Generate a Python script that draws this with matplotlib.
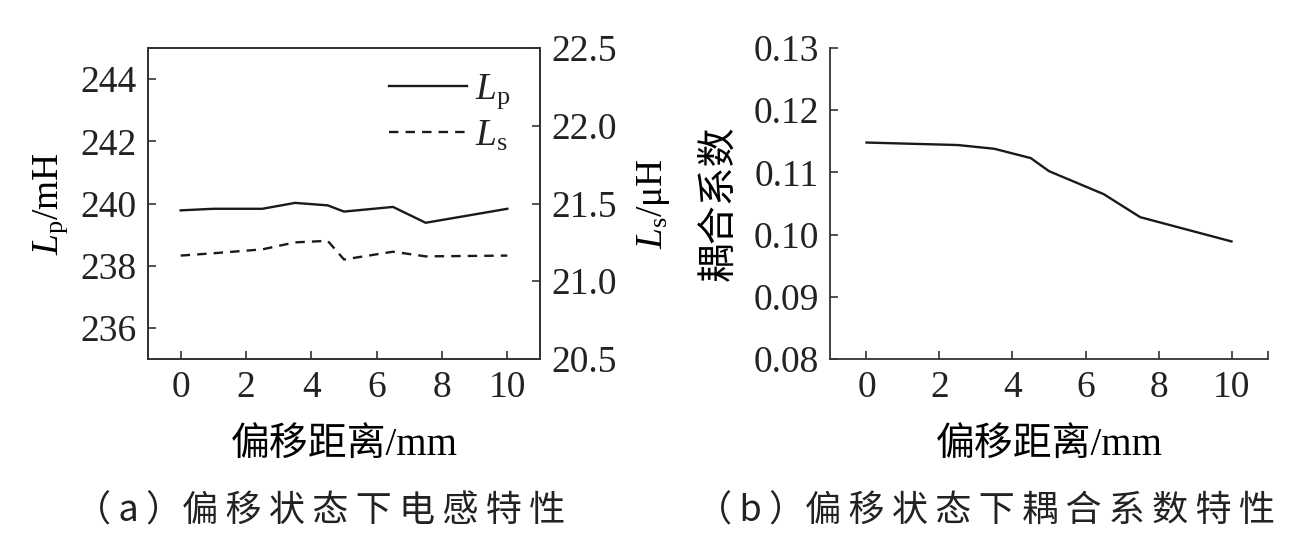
import matplotlib
matplotlib.use("Agg")
import matplotlib.pyplot as plt
import numpy as np
from matplotlib.ticker import FormatStrFormatter, FixedLocator

# font: serif numbers, CJK fallback
plt.rcParams['font.family'] = ['Liberation Serif', 'Noto Sans CJK SC']
plt.rcParams['mathtext.fontset'] = 'custom'
plt.rcParams['mathtext.rm'] = 'Liberation Serif'
plt.rcParams['mathtext.it'] = 'Liberation Serif:italic'
plt.rcParams['font.size'] = 27
plt.rcParams['text.color'] = '#222222'
plt.rcParams['axes.edgecolor'] = '#333333'
plt.rcParams['xtick.color'] = '#333333'
plt.rcParams['ytick.color'] = '#333333'
plt.rcParams['xtick.labelcolor'] = '#222222'
plt.rcParams['ytick.labelcolor'] = '#222222'

# data
offset = [0, 1, 2.5, 3.5, 4.5, 5, 6.5, 7.5, 10]
Lp = [239.78, 239.83, 239.83, 240.02, 239.94, 239.74, 239.89, 239.38, 239.83]
Ls = [21.165, 21.18, 21.205, 21.25, 21.26, 21.14, 21.19, 21.16, 21.165]

k_offset = [0, 2.5, 3.5, 4.5, 5, 6.5, 7.5, 10]
k = [0.1148, 0.1144, 0.1138, 0.1123, 0.1102, 0.1065, 0.1028, 0.0989]

xlabel = '偏移距离/mm'
cap_a = ['（\u2009a\u2009）', '偏', '移', '状', '态', '下', '电', '感', '特', '性']
cap_b = ['（\u2009b\u2009）', '偏', '移', '状', '态', '下', '耦', '合', '系', '数', '特', '性']

W, H = 1312, 552
fig = plt.figure(figsize=(W / 100, H / 100), dpi=100)

ax1 = fig.add_axes([148 / W, (H - 359) / H, 392 / W, 311 / H])
ax2 = ax1.twinx()
ax3 = fig.add_axes([830 / W, (H - 359) / H, 438 / W, 311 / H])

lc = '#1a1a1a'
l1, = ax1.plot(offset, Lp, color=lc, lw=1.7, label=r'$L_\mathrm{p}$')
l2, = ax2.plot(offset, Ls, color=lc, lw=1.7, dashes=(4, 3), label=r'$L_\mathrm{s}$')

ax1.set_xlim(-1, 11)
ax1.set_ylim(235, 245)
ax1.set_yticks(np.arange(236, 245, 2))
ax1.set_xticks(np.arange(0, 11, 2))
ax2.set_ylim(20.5, 22.5)
ax2.set_yticks(np.arange(20.5, 22.51, 0.5))
ax2.yaxis.set_major_formatter(FormatStrFormatter('%.1f'))

ax1.set_ylabel(r'$L_\mathrm{p}$/mH', labelpad=8)
ax2.set_ylabel(r'$L_\mathrm{s}$/μH', labelpad=13)
ax1.set_xlabel(xlabel, labelpad=16, fontsize=28)

ax1.legend(handles=[l1, l2], loc='upper right', bbox_to_anchor=(1.01, 1.03),
           frameon=False, handlelength=2.1, handletextpad=0.2, labelspacing=0.2)

ax3.plot(k_offset, k, color=lc, lw=1.7)
ax3.set_xlim(-1, 11)
ax3.set_ylim(0.08, 0.13)
ax3.set_yticks(np.arange(0.08, 0.1301, 0.01))
ax3.yaxis.set_major_formatter(FormatStrFormatter('%.2f'))
ax3.set_xticks(np.arange(0, 11, 2))
ax3.xaxis.set_minor_locator(FixedLocator([11]))
ax3.spines['top'].set_visible(False)
ax3.spines['right'].set_visible(False)
ax3.set_ylabel('耦合系数', labelpad=10, fontsize=28)
ax3.set_xlabel(xlabel, labelpad=16, fontsize=28)

for ax in (ax1, ax2, ax3):
    for s in ax.spines.values():
        s.set_linewidth(1.3)
    ax.tick_params(direction='in', length=6, width=1.2, pad=8)
    ax.tick_params(which='minor', direction='in', length=6, width=1.2)

# captions, letter spaced with thin spaces
cap_family = ['Noto Sans CJK SC', 'Liberation Serif']
fig.text(320 / W, 1 - 512 / H, cap_a[0] + '\u2009'.join(cap_a[1:]),
         ha='center', va='center', fontsize=26, family=cap_family)
fig.text(986 / W, 1 - 512 / H, cap_b[0] + '\u2009'.join(cap_b[1:]),
         ha='center', va='center', fontsize=26, family=cap_family)

fig.savefig('out.png', dpi=100)
